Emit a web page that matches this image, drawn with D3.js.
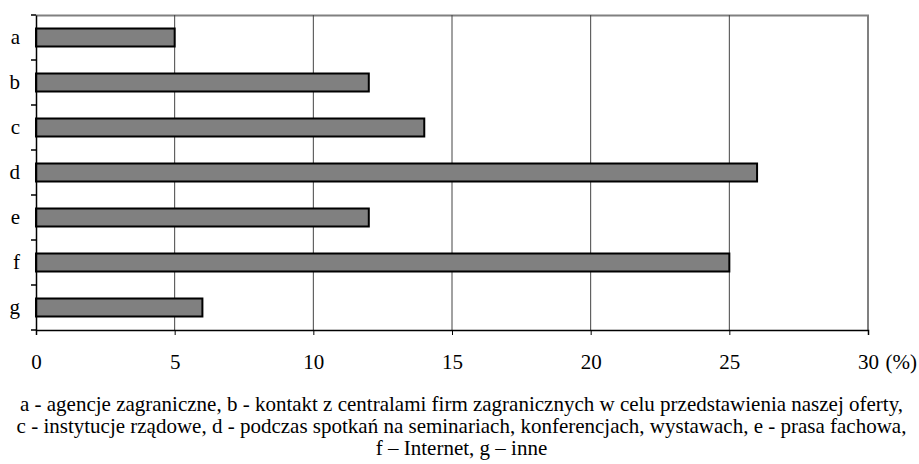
<!DOCTYPE html>
<html>
<head>
<meta charset="utf-8">
<script src="https://cdn.jsdelivr.net/npm/d3@7"></script>
</head>
<body style="margin:0; background:#fff">
<div id="chart"></div>
<script>
// data
var categories = ["a", "b", "c", "d", "e", "f", "g"];
var values = [5, 12, 14, 26, 12, 25, 6];
var xTicks = [0, 5, 10, 15, 20, 25, 30];
var captionLines = [
  "a - agencje zagraniczne, b - kontakt z centralami firm zagranicznych w celu przedstawienia naszej oferty,",
  "c - instytucje rządowe, d - podczas spotkań na seminariach, konferencjach, wystawach, e - prasa fachowa,",
  "f – Internet, g – inne"
];

var FONT = "Liberation Serif";
var W = 919, H = 464;
var margin = { top: 15, right: 51, bottom: 134, left: 36 },
  width = W - margin.left - margin.right,
  height = H - margin.top - margin.bottom;

var svg = d3.select("#chart")
  .append("svg")
  .attr("width", W)
  .attr("height", H);

var g = svg.append("g")
  .attr("transform", "translate(" + margin.left + "," + margin.top + ")");

var x = d3.scaleLinear().domain([0, 30]).range([0, width]);
var y = d3.scaleBand().domain(categories).range([0, height])
  .paddingInner(0.6).paddingOuter(0.3);

// frame top + right (grey)
g.append("path")
  .attr("d", "M0,0.5H" + x(30) + "V" + height)
  .attr("fill", "none")
  .attr("stroke", "#808080")
  .attr("stroke-width", 2);

// vertical grid lines
g.selectAll(".grid")
  .data(xTicks.slice(1, -1))
  .enter().append("line")
  .attr("class", "grid")
  .attr("x1", function (d) { return x(d); })
  .attr("x2", function (d) { return x(d); })
  .attr("y1", 0)
  .attr("y2", height)
  .attr("stroke", "#444")
  .attr("stroke-width", 1);

// bars
g.selectAll(".bar")
  .data(categories)
  .enter().append("rect")
  .attr("class", "bar")
  .attr("x", x(0))
  .attr("y", function (d) { return y(d); })
  .attr("width", function (d, i) { return x(values[i]) - x(0); })
  .attr("height", y.bandwidth())
  .attr("fill", "#808080")
  .attr("stroke", "#000")
  .attr("stroke-width", 2);

// x axis
var xAxis = d3.axisBottom(x)
  .tickValues(xTicks)
  .tickSize(5)
  .tickPadding(19)
  .tickFormat(d3.format("d"));

var xg = g.append("g")
  .attr("transform", "translate(0," + height + ")")
  .call(xAxis)
  .attr("font-family", FONT)
  .attr("font-size", 21);
xg.select(".domain").attr("stroke", "#000").attr("stroke-width", 1.5);
xg.selectAll(".tick line").attr("stroke", "#000");
xg.selectAll("text").attr("fill", "#000");
xg.select(".tick:last-of-type")
  .append("text")
  .attr("x", 17)
  .attr("y", 24)
  .attr("dy", "0.71em")
  .attr("text-anchor", "start")
  .attr("fill", "#000")
  .text("(%)");

// y axis: labels centred on bars, ticks on band boundaries
var yAxis = d3.axisLeft(y).tickSize(0).tickPadding(16);
var yg = g.append("g")
  .call(yAxis)
  .attr("font-family", FONT)
  .attr("font-size", 21);
yg.select(".domain").attr("stroke", "#000").attr("stroke-width", 1.5);
yg.selectAll("text").attr("fill", "#000");

var step = y.step();
g.selectAll(".ytick")
  .data(d3.range(categories.length + 1))
  .enter().append("line")
  .attr("class", "ytick")
  .attr("x1", -5)
  .attr("x2", 0)
  .attr("y1", function (i) { return i * step; })
  .attr("y2", function (i) { return i * step; })
  .attr("stroke", "#000")
  .attr("stroke-width", 1.5);

// caption under the chart
svg.append("g")
  .attr("font-family", FONT)
  .attr("font-size", 21)
  .selectAll("text")
  .data(captionLines)
  .enter().append("text")
  .attr("x", W / 2 + 2)
  .attr("y", function (d, i) { return 411 + i * 22; })
  .attr("text-anchor", "middle")
  .attr("fill", "#000")
  .text(function (d) { return d; });
</script>
</body>
</html>
